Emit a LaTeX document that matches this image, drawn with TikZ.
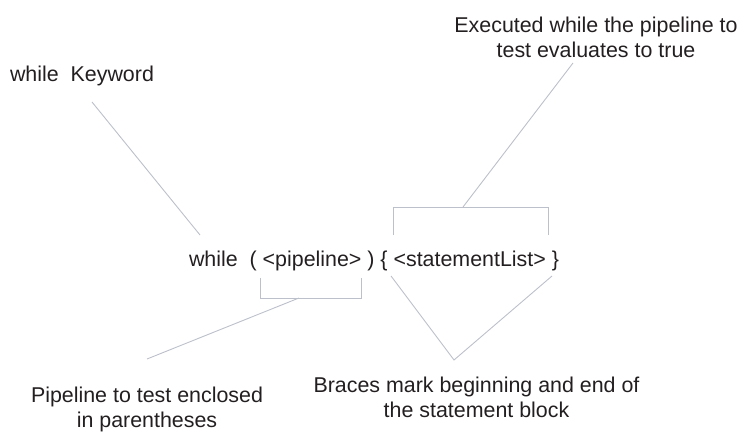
\documentclass[tikz,border=0pt]{standalone}
\usepackage{fontspec}
\setmainfont{Liberation Sans}
\usetikzlibrary{positioning}
\definecolor{calloutgray}{RGB}{188,192,202}
\definecolor{textgray}{RGB}{35,31,32}

\begin{document}
\begin{tikzpicture}[x=1pt,y=-1pt,
		note/.style={text=textgray,font=\fontsize{21.4}{25}\selectfont,align=center,inner sep=0pt},
		callout/.style={calloutgray,line width=0.9pt}]
			\useasboundingbox (0,0) rectangle (740,433);
			
			% Statement
			\node[note,anchor=base] (stmt) at (374,267) {while\ \ ( <pipeline> ) \{ <statementList> \}};
			
			% Labels
			\node[note,anchor=base] (kw) at (82,82) {while\ \ Keyword};
			\node[note] (exec) at (596,37.5) {Executed while the pipeline to\\test evaluates to true};
			\node[note] (pipe) at (147,409.5) {Pipeline to test enclosed\\in parentheses};
			\node[note] (braces) at (476.5,397) {Braces mark beginning and end of\\the statement block};
			
			% Bracket over the statement list
			\coordinate (bodyl) at (393,235);
			\coordinate (bodyr) at (548,235);
			\coordinate (bodytop) at (463,207);
			\draw[callout] (bodyl) -- (393,207) -- (548,207) -- (bodyr);
			
			% Bracket under the pipeline
			\coordinate (condl) at (260,278);
			\coordinate (condr) at (361,278);
			\coordinate (condbot) at (299,298);
			\draw[callout] (condl) -- (260,298) -- (361,298) -- (condr);
			
			% Callout lines
			\coordinate (kwend) at (92,102);
			\coordinate (whileword) at (200,235);
			\coordinate (execend) at (573,63);
			\coordinate (pipeend) at (147,359);
			\coordinate (lbrace) at (391,276);
			\coordinate (rbrace) at (552,276);
			\coordinate (bracetip) at (454,360);
			\draw[callout] (kwend) -- (whileword);
			\draw[callout] (bodytop) -- (execend);
			\draw[callout] (condbot) -- (pipeend);
			\draw[callout] (lbrace) -- (bracetip) -- (rbrace);
\end{tikzpicture}
\end{document}
